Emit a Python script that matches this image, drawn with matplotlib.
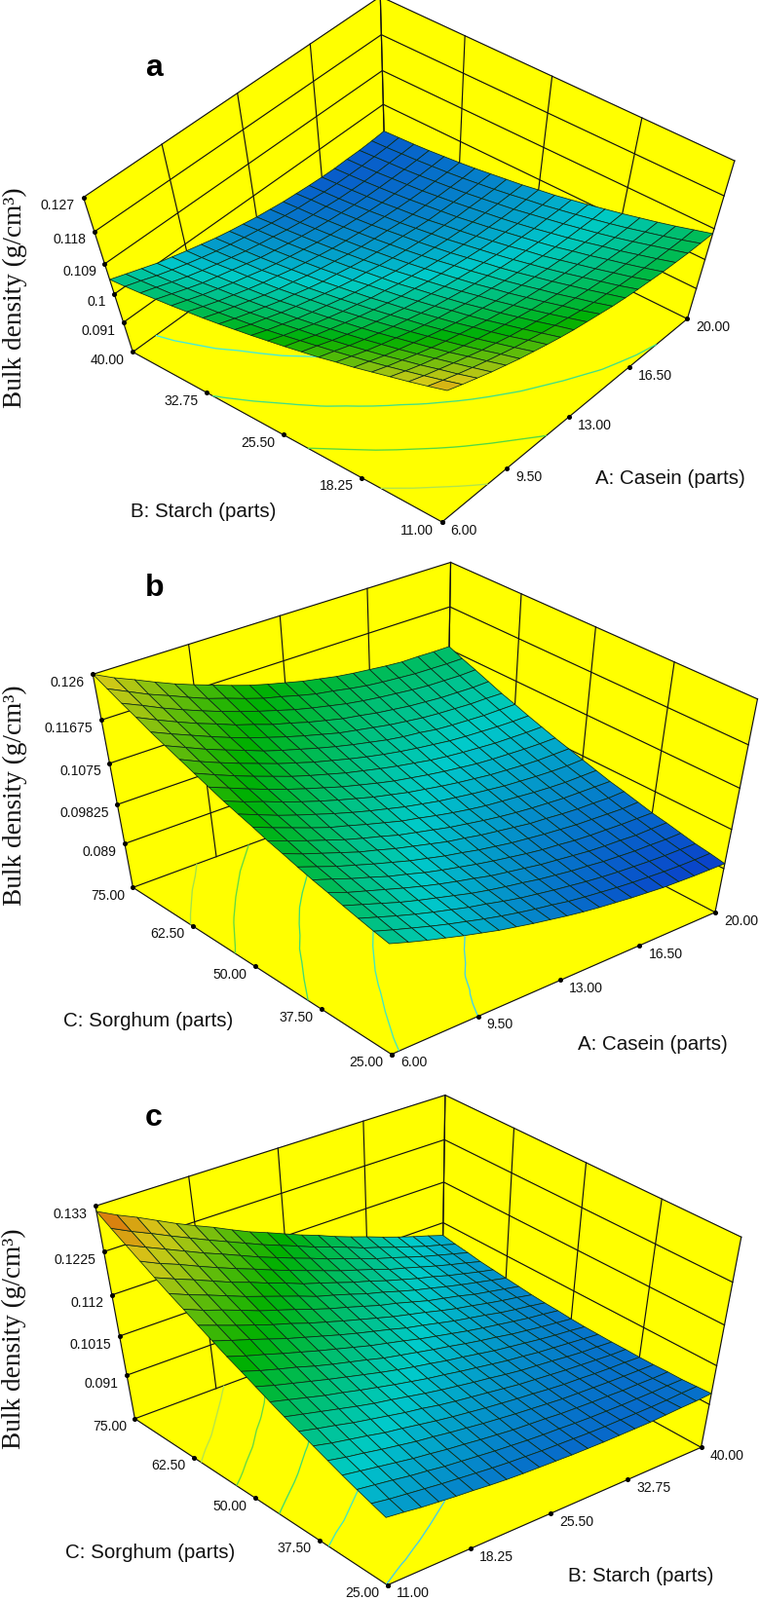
"""Bulk density response surfaces for the casein / starch / sorghum mixes (panels a-c)."""

import matplotlib

matplotlib.use("Agg")
import matplotlib.pyplot as plt
import numpy as np
from matplotlib.colors import LinearSegmentedColormap, Normalize
from mpl_toolkits.mplot3d.art3d import Poly3DCollection

WIDTH, HEIGHT = 780, 1643

CASEIN_TICKS = [6.0, 9.5, 13.0, 16.5, 20.0]
STARCH_TICKS = [11.0, 18.25, 25.5, 32.75, 40.0]
SORGHUM_TICKS = [25.0, 37.5, 50.0, 62.5, 75.0]

DENSITY_TICKS_A = [0.091, 0.1, 0.109, 0.118, 0.127]
DENSITY_TICKS_B = [0.089, 0.09825, 0.1075, 0.11675, 0.126]
DENSITY_TICKS_C = [0.091, 0.1015, 0.112, 0.1225, 0.133]

CONTOURS_A = [0.102, 0.108, 0.1143, 0.1205]
CONTOURS_B = [0.0984, 0.104, 0.1095, 0.1152, 0.1195]
CONTOURS_C = [0.098, 0.1039, 0.1097, 0.1154, 0.1207]

# Rows run along the left-hand factor, columns along the right-hand factor.
SURFACE_A = [
    [1265, 1247, 1230, 1213, 1198, 1183, 1170, 1157, 1145, 1134, 1125, 1116, 1107, 1100, 1094, 1089, 1084, 1081, 1078, 1077, 1076],
    [1248, 1230, 1213, 1197, 1182, 1168, 1154, 1142, 1130, 1120, 1110, 1100, 1092, 1086, 1079, 1074, 1070, 1067, 1065, 1063, 1063],
    [1232, 1214, 1198, 1182, 1167, 1152, 1139, 1126, 1115, 1105, 1095, 1087, 1079, 1072, 1066, 1061, 1057, 1054, 1052, 1050, 1050],
    [1217, 1199, 1182, 1167, 1151, 1137, 1124, 1112, 1101, 1091, 1081, 1073, 1065, 1059, 1053, 1048, 1045, 1041, 1039, 1038, 1038],
    [1202, 1184, 1168, 1152, 1137, 1123, 1111, 1099, 1087, 1077, 1068, 1060, 1053, 1046, 1040, 1036, 1032, 1030, 1027, 1026, 1027],
    [1187, 1170, 1153, 1138, 1124, 1110, 1097, 1085, 1074, 1065, 1055, 1047, 1040, 1034, 1028, 1024, 1021, 1018, 1016, 1015, 1016],
    [1174, 1157, 1140, 1125, 1111, 1097, 1084, 1073, 1063, 1052, 1044, 1036, 1028, 1022, 1017, 1012, 1009, 1007, 1006, 1005, 1006],
    [1160, 1144, 1127, 1112, 1098, 1085, 1073, 1061, 1050, 1041, 1032, 1024, 1018, 1011, 1006, 1003, 999, 997, 996, 995, 996],
    [1148, 1132, 1115, 1100, 1086, 1073, 1061, 1049, 1039, 1030, 1021, 1014, 1007, 1002, 996, 992, 990, 987, 987, 986, 987],
    [1136, 1120, 1103, 1089, 1075, 1062, 1050, 1039, 1028, 1020, 1011, 1004, 998, 992, 987, 983, 981, 978, 978, 977, 978],
    [1125, 1108, 1093, 1077, 1064, 1051, 1040, 1028, 1019, 1009, 1002, 994, 988, 982, 978, 974, 972, 970, 969, 970, 971],
    [1114, 1097, 1082, 1067, 1054, 1042, 1030, 1019, 1010, 1001, 992, 985, 979, 974, 969, 966, 964, 963, 962, 962, 963],
    [1104, 1087, 1073, 1058, 1045, 1033, 1021, 1010, 1000, 993, 984, 977, 971, 966, 962, 959, 956, 956, 955, 955, 957],
    [1094, 1078, 1063, 1049, 1035, 1024, 1012, 1001, 993, 984, 976, 970, 964, 960, 955, 951, 950, 949, 948, 949, 951],
    [1085, 1069, 1055, 1041, 1027, 1015, 1005, 994, 985, 977, 969, 962, 957, 953, 948, 945, 944, 943, 943, 943, 945],
    [1077, 1061, 1046, 1033, 1020, 1008, 998, 987, 978, 970, 962, 956, 951, 946, 943, 940, 938, 937, 938, 938, 940],
    [1069, 1054, 1039, 1026, 1013, 1002, 990, 980, 972, 964, 956, 950, 945, 941, 937, 934, 933, 933, 933, 934, 936],
    [1062, 1047, 1032, 1018, 1007, 996, 985, 974, 966, 958, 951, 945, 940, 936, 932, 930, 929, 929, 929, 930, 932],
    [1055, 1041, 1026, 1012, 1000, 989, 979, 969, 961, 954, 946, 940, 935, 932, 928, 926, 925, 925, 926, 927, 929],
    [1049, 1035, 1020, 1007, 995, 984, 974, 965, 957, 950, 943, 937, 932, 929, 925, 923, 922, 922, 923, 924, 927],
    [1044, 1030, 1016, 1002, 991, 980, 970, 960, 952, 945, 938, 933, 928, 925, 922, 920, 919, 920, 920, 922, 925],
]
SURFACE_B = [
    [1046, 1032, 1019, 1007, 995, 984, 973, 964, 955, 947, 939, 932, 926, 921, 916, 912, 908, 906, 904, 903, 902],
    [1053, 1039, 1026, 1013, 1001, 990, 979, 969, 960, 952, 945, 937, 931, 926, 921, 917, 914, 911, 909, 908, 908],
    [1061, 1047, 1033, 1020, 1008, 997, 986, 977, 967, 958, 951, 944, 938, 932, 927, 923, 920, 917, 915, 914, 913],
    [1069, 1055, 1041, 1027, 1015, 1004, 993, 982, 973, 965, 958, 950, 944, 938, 934, 929, 926, 923, 922, 920, 920],
    [1078, 1062, 1049, 1036, 1023, 1011, 1000, 990, 981, 971, 964, 957, 950, 945, 940, 935, 932, 930, 927, 927, 927],
    [1086, 1072, 1057, 1044, 1030, 1019, 1007, 997, 988, 979, 971, 964, 957, 951, 947, 942, 939, 937, 935, 934, 933],
    [1095, 1080, 1065, 1052, 1039, 1027, 1015, 1005, 995, 987, 978, 971, 964, 959, 954, 950, 946, 944, 942, 940, 941],
    [1105, 1089, 1075, 1061, 1047, 1036, 1024, 1014, 1004, 994, 987, 979, 973, 967, 961, 958, 954, 951, 950, 948, 949],
    [1114, 1099, 1084, 1070, 1056, 1044, 1033, 1021, 1012, 1003, 994, 987, 980, 974, 969, 965, 962, 959, 958, 957, 956],
    [1125, 1109, 1094, 1079, 1065, 1054, 1042, 1031, 1020, 1012, 1003, 995, 988, 982, 978, 974, 970, 967, 965, 965, 965],
    [1135, 1119, 1103, 1089, 1076, 1063, 1051, 1040, 1030, 1020, 1012, 1004, 998, 992, 987, 982, 979, 976, 974, 973, 974],
    [1145, 1129, 1115, 1100, 1086, 1073, 1061, 1050, 1039, 1030, 1021, 1014, 1007, 1001, 996, 991, 988, 985, 983, 983, 983],
    [1157, 1141, 1125, 1110, 1096, 1083, 1071, 1059, 1049, 1039, 1030, 1023, 1016, 1010, 1005, 1000, 997, 995, 993, 992, 992],
    [1169, 1152, 1136, 1121, 1107, 1093, 1081, 1070, 1059, 1050, 1041, 1033, 1026, 1019, 1014, 1010, 1007, 1004, 1003, 1002, 1002],
    [1181, 1163, 1147, 1132, 1118, 1104, 1092, 1080, 1070, 1060, 1051, 1043, 1036, 1030, 1025, 1020, 1017, 1015, 1013, 1012, 1012],
    [1193, 1176, 1159, 1144, 1130, 1115, 1103, 1092, 1081, 1071, 1062, 1054, 1046, 1040, 1036, 1030, 1027, 1025, 1023, 1023, 1023],
    [1205, 1188, 1172, 1156, 1141, 1127, 1115, 1103, 1092, 1082, 1072, 1065, 1058, 1051, 1046, 1041, 1038, 1036, 1034, 1034, 1033],
    [1219, 1201, 1184, 1168, 1154, 1139, 1127, 1114, 1104, 1093, 1084, 1075, 1069, 1062, 1057, 1052, 1049, 1046, 1045, 1044, 1045],
    [1232, 1215, 1197, 1181, 1166, 1152, 1139, 1127, 1116, 1105, 1096, 1088, 1080, 1074, 1069, 1065, 1061, 1058, 1057, 1056, 1057],
    [1246, 1228, 1210, 1195, 1179, 1164, 1152, 1139, 1127, 1118, 1108, 1099, 1093, 1086, 1080, 1076, 1073, 1070, 1069, 1068, 1068],
    [1260, 1241, 1225, 1208, 1192, 1178, 1165, 1152, 1140, 1130, 1121, 1112, 1105, 1098, 1093, 1089, 1085, 1082, 1082, 1081, 1081],
]
SURFACE_C = [
    [979, 973, 966, 961, 956, 952, 947, 943, 940, 938, 936, 934, 933, 932, 932, 932, 932, 934, 936, 937, 940],
    [992, 984, 978, 972, 966, 961, 956, 951, 947, 944, 941, 939, 937, 935, 934, 934, 934, 934, 935, 937, 938],
    [1005, 998, 991, 983, 977, 970, 965, 960, 955, 951, 947, 944, 942, 939, 937, 936, 935, 935, 935, 936, 936],
    [1019, 1011, 1003, 995, 987, 981, 974, 969, 963, 958, 953, 950, 947, 943, 941, 939, 938, 936, 936, 935, 936],
    [1034, 1024, 1016, 1007, 999, 991, 985, 978, 972, 966, 961, 956, 952, 948, 944, 942, 940, 938, 937, 936, 935],
    [1049, 1038, 1029, 1020, 1010, 1003, 995, 987, 980, 974, 968, 963, 958, 954, 949, 945, 943, 940, 938, 937, 935],
    [1064, 1053, 1043, 1032, 1023, 1014, 1005, 998, 989, 982, 976, 970, 964, 958, 954, 950, 946, 943, 940, 937, 936],
    [1079, 1068, 1057, 1046, 1035, 1025, 1017, 1008, 999, 991, 984, 977, 971, 964, 958, 954, 950, 945, 941, 939, 936],
    [1095, 1083, 1071, 1059, 1049, 1038, 1028, 1018, 1009, 1000, 993, 985, 978, 971, 964, 959, 953, 949, 945, 941, 937],
    [1112, 1098, 1086, 1074, 1062, 1051, 1040, 1029, 1019, 1010, 1002, 993, 986, 978, 970, 964, 958, 952, 947, 943, 938],
    [1129, 1114, 1101, 1089, 1075, 1063, 1052, 1041, 1029, 1020, 1011, 1002, 994, 985, 977, 970, 962, 956, 950, 945, 940],
    [1145, 1130, 1117, 1103, 1090, 1077, 1065, 1053, 1041, 1031, 1021, 1010, 1001, 992, 983, 975, 968, 961, 954, 949, 943],
    [1163, 1148, 1134, 1119, 1104, 1091, 1078, 1065, 1053, 1042, 1031, 1019, 1010, 1000, 990, 982, 974, 965, 958, 952, 945],
    [1181, 1165, 1149, 1134, 1119, 1106, 1091, 1078, 1065, 1053, 1041, 1029, 1019, 1009, 998, 988, 980, 971, 963, 956, 948],
    [1200, 1182, 1167, 1151, 1134, 1120, 1106, 1091, 1077, 1065, 1052, 1039, 1029, 1017, 1005, 996, 987, 976, 968, 960, 952],
    [1218, 1200, 1184, 1167, 1150, 1135, 1120, 1105, 1089, 1077, 1064, 1050, 1039, 1026, 1014, 1004, 993, 983, 974, 965, 956],
    [1237, 1219, 1202, 1184, 1166, 1151, 1134, 1119, 1102, 1089, 1075, 1061, 1049, 1035, 1023, 1011, 1001, 989, 979, 969, 960],
    [1257, 1237, 1220, 1201, 1183, 1166, 1150, 1133, 1117, 1102, 1087, 1072, 1059, 1046, 1031, 1020, 1008, 996, 985, 975, 964],
    [1277, 1257, 1238, 1219, 1200, 1183, 1165, 1147, 1131, 1115, 1100, 1084, 1070, 1056, 1041, 1029, 1016, 1003, 992, 981, 970],
    [1297, 1276, 1257, 1237, 1218, 1199, 1181, 1163, 1145, 1129, 1113, 1096, 1082, 1067, 1051, 1038, 1024, 1011, 998, 987, 975],
    [1318, 1296, 1277, 1256, 1235, 1216, 1198, 1178, 1159, 1143, 1126, 1109, 1094, 1077, 1062, 1048, 1033, 1019, 1006, 994, 981],
]

# Colour scale is shared by the three panels.
RESPONSE_CMAP = LinearSegmentedColormap.from_list(
    "response",
    [(0.0, "#0c3de6"), (0.25, "#00e6e6"), (0.5, "#00c800"), (0.75, "#f2e61a"), (1.0, "#ff1a00")],
)
RESPONSE_NORM = Normalize(0.089, 0.137)
FACE_SHADE = np.array([0.88, 0.88, 0.88, 1.0])

# Camera anchors: (x, y, z) on the box -> pixel position in the reference.
ANCHORS_A = [
    (6, 40, 0.127, 86.7, 206), (6, 40, 0.118, 95.7, 236.7), (6, 40, 0.109, 105.7, 267.7),
    (6, 40, 0.1, 115.7, 298.3), (6, 40, 0.091, 125.3, 329.3), (6, 40, 0.081, 137.3, 364),
    (20, 40, 0.127, 390, 1.7), (20, 40, 0.118, 391.7, 36), (20, 40, 0.109, 392.7, 70.7),
    (20, 40, 0.1, 393.3, 105), (20, 11, 0.127, 755.7, 163.3), (20, 11, 0.081, 706.7, 325.7),
    (6, 11, 0.081, 456, 534.3), (9.5, 11, 0.081, 518.3, 482), (13, 11, 0.081, 581, 430.3),
    (16.5, 11, 0.081, 643.7, 378), (6, 32.75, 0.081, 216.7, 406.7),
]
ANCHORS_B = [
    (6, 75, 0.126, 95, 696), (6, 75, 0.11675, 103, 737.7), (6, 75, 0.1075, 110.7, 779.3),
    (6, 75, 0.09825, 118.7, 821.3), (6, 75, 0.089, 126.3, 863), (6, 75, 0.0781, 135.3, 911.7),
    (20, 75, 0.126, 462.3, 584), (20, 75, 0.11675, 461.7, 625), (20, 75, 0.1075, 461, 664),
    (20, 25, 0.126, 777.3, 721.7), (20, 25, 0.11675, 769.3, 763.3), (20, 25, 0.1075, 761.7, 806),
    (20, 25, 0.09825, 752.7, 846.7), (20, 25, 0.089, 745, 886.7), (20, 25, 0.0781, 735, 938.3),
    (6, 25, 0.0781, 401.7, 1080.7), (9.5, 25, 0.0781, 485.7, 1045), (13, 25, 0.0781, 568.3, 1009.3),
    (16.5, 25, 0.0781, 651.7, 974), (6, 62.5, 0.0781, 202, 954), (6, 50, 0.0781, 268.7, 996.3),
    (6, 37.5, 0.0781, 335, 1038.3),
]
ANCHORS_C = [
    (11, 75, 0.133, 98.7, 1242), (11, 75, 0.1225, 106, 1284), (11, 75, 0.112, 113.3, 1325.7),
    (11, 75, 0.1015, 120.7, 1367.3), (11, 75, 0.091, 128.3, 1409), (11, 75, 0.0787, 137.7, 1457.7),
    (40, 75, 0.133, 456.7, 1130), (40, 75, 0.1225, 456, 1171.7), (40, 75, 0.112, 455.3, 1213.3),
    (40, 75, 0.1015, 454.7, 1253.3), (40, 25, 0.133, 763.3, 1267.7), (40, 25, 0.0787, 723.3, 1484.3),
    (11, 25, 0.0787, 396.7, 1626), (18.25, 25, 0.0787, 479, 1590.7), (25.5, 25, 0.0787, 560, 1555),
    (32.75, 25, 0.0787, 641.7, 1519.3), (11, 62.5, 0.0787, 202.3, 1500), (11, 50, 0.0787, 267.7, 1542.3),
    (11, 37.5, 0.0787, 332.3, 1584),
]

plt.rcParams["font.family"] = ["Liberation Sans", "DejaVu Sans"]


def fit_camera(anchors):
    """Fit a 3x4 projective camera (box coordinates -> reference pixels)."""
    pts = np.array(anchors, dtype=float)
    lo = pts[:, :3].min(axis=0)
    span = pts[:, :3].max(axis=0) - lo
    unit = (pts[:, :3] - lo) / span
    uv = pts[:, 3:] / WIDTH

    rows = []
    for (x, y, z), (u, v) in zip(unit, uv):
        rows.append([x, y, z, 1, 0, 0, 0, 0, -u * x, -u * y, -u * z, -u])
        rows.append([0, 0, 0, 0, x, y, z, 1, -v * x, -v * y, -v * z, -v])
    cam = np.linalg.svd(np.array(rows))[2][-1].reshape(3, 4)
    if cam[2] @ np.array([0.5, 0.5, 0.5, 1.0]) < 0:
        cam = -cam

    to_unit = np.diag([*(1 / span), 1.0])
    to_unit[:3, 3] = -lo / span
    return np.diag([WIDTH, WIDTH, 1.0]) @ cam @ to_unit


def put_text(fig, px, py, text, **kwargs):
    """Place figure text at a reference pixel position."""
    kwargs.setdefault("va", "center")
    fig.text(px / WIDTH, 1 - py / HEIGHT, text, **kwargs)


def contour_colour(value):
    """Floor contours are a lighter tint of the surface colour."""
    rgba = np.array(RESPONSE_CMAP(RESPONSE_NORM(value)))
    rgba[:3] = 0.75 * rgba[:3] + 0.25
    return tuple(rgba)


def draw_panel(fig, panel):
    x_ticks, y_ticks, z_ticks = panel["x_ticks"], panel["y_ticks"], panel["z_ticks"]
    floor = panel["floor"]
    x0, x1 = x_ticks[0], x_ticks[-1]
    y0, y1 = y_ticks[0], y_ticks[-1]
    top = z_ticks[-1]

    # One square 3d axes over the whole figure, so its view limits are pixels.
    side = HEIGHT / WIDTH
    ax = fig.add_axes([(1 - side) / 2, 0, side, 1], projection="3d", computed_zorder=False)
    ax.set_axis_off()
    ax.patch.set_alpha(0)
    ax.set_proj_type("ortho")  # no clipping to the unit view box
    ax.viewLim.intervalx = ((WIDTH - HEIGHT) / 2, (WIDTH + HEIGHT) / 2)
    ax.viewLim.intervaly = (HEIGHT, 0)

    cam = fit_camera(panel["anchors"])
    # Depth row only has to grow with distance for the polygon sort.
    proj = np.vstack([cam[0], cam[1], [0, 0, 0, -1], cam[2]])
    ax.get_proj = lambda: proj

    # Floor and the two back walls.
    panes = [
        [(x0, y0, floor), (x1, y0, floor), (x1, y1, floor), (x0, y1, floor)],
        [(x0, y1, floor), (x1, y1, floor), (x1, y1, top), (x0, y1, top)],
        [(x1, y1, floor), (x1, y0, floor), (x1, y0, top), (x1, y1, top)],
    ]
    ax.add_collection3d(Poly3DCollection(panes, facecolors="#ffff00", edgecolors="none", zorder=1))

    line = {"color": "#111111", "linewidth": 0.85, "zorder": 2}
    for z in z_ticks:
        ax.plot([x0, x1, x1], [y1, y1, y0], [z, z, z], **line)
    for x in x_ticks:
        ax.plot([x, x], [y1, y1], [floor, top], **line)
    for y in y_ticks:
        ax.plot([x1, x1], [y, y], [floor, top], **line)
    ax.plot([x0, x1, x1, x0, x0], [y0, y0, y1, y1, y0], [floor] * 5, **line)

    xs = np.linspace(x0, x1, 21)
    ys = np.linspace(y0, y1, 21)
    grid_x, grid_y = np.meshgrid(xs, ys)
    density = np.array(panel["surface"]) * 1e-4

    levels = panel["contours"]
    ax.contour(
        grid_x, grid_y, density, levels=levels, zdir="z", offset=floor,
        colors=[contour_colour(v) for v in levels], linewidths=0.95, zorder=3,
    )

    surf = ax.plot_surface(
        grid_x, grid_y, density, rstride=1, cstride=1, shade=False,
        facecolors=RESPONSE_CMAP(RESPONSE_NORM(density)) * FACE_SHADE, linewidth=0.55, zorder=4,
    )
    surf.set_edgecolor("#0c2a18")

    # Tick dots and labels.
    dots = {"color": "black", "marker": "o", "markersize": 2.6, "linestyle": "none", "zorder": 5}
    ax.plot([x0] * len(z_ticks), [y1] * len(z_ticks), z_ticks, **dots)
    ax.plot(x_ticks, [y0] * len(x_ticks), [floor] * len(x_ticks), **dots)
    ax.plot([x0] * len(y_ticks), y_ticks, [floor] * len(y_ticks), **dots)

    def to_pixel(x, y, z):
        u, v, w = cam @ np.array([x, y, z, 1.0])
        return u / w, v / w

    tick_font = {"fontsize": 10.1, "color": "#111111"}
    for z in z_ticks:
        px, py = to_pixel(x0, y1, z)
        put_text(fig, px - 8.5, py + 8.5, f"{z:g}", ha="right", **tick_font)
    for y in y_ticks:
        px, py = to_pixel(x0, y, floor)
        put_text(fig, px - 8.5, py + 8.5, f"{y:.2f}", ha="right", **tick_font)
    for x in x_ticks:
        px, py = to_pixel(x, y0, floor)
        put_text(fig, px + 9, py + 8.7, f"{x:.2f}", ha="left", **tick_font)

    label_font = {"fontsize": 14.8, "color": "#111111", "ha": "center"}
    put_text(fig, *panel["x_label_at"], panel["x_label"], **label_font)
    put_text(fig, *panel["y_label_at"], panel["y_label"], **label_font)
    put_text(
        fig, *panel["z_label_at"], "Bulk density (g/cm³)", rotation=90, ha="center",
        fontsize=19.6, family="Liberation Serif", color="#111111",
    )
    put_text(fig, *panel["letter_at"], panel["letter"], fontsize=23, fontweight="bold", ha="center")


PANELS = [
    {
        "letter": "a", "letter_at": (158, 70),
        "x_ticks": CASEIN_TICKS, "y_ticks": STARCH_TICKS, "z_ticks": DENSITY_TICKS_A, "floor": 0.081,
        "surface": SURFACE_A, "contours": CONTOURS_A, "anchors": ANCHORS_A,
        "x_label": "A: Casein (parts)", "x_label_at": (688, 491),
        "y_label": "B: Starch (parts)", "y_label_at": (209, 525),
        "z_label_at": (15, 305.6),
    },
    {
        "letter": "b", "letter_at": (159, 604),
        "x_ticks": CASEIN_TICKS, "y_ticks": SORGHUM_TICKS, "z_ticks": DENSITY_TICKS_B, "floor": 0.0781,
        "surface": SURFACE_B, "contours": CONTOURS_B, "anchors": ANCHORS_B,
        "x_label": "A: Casein (parts)", "x_label_at": (669.5, 1072.7),
        "y_label": "C: Sorghum (parts)", "y_label_at": (152, 1048.7),
        "z_label_at": (15, 817),
    },
    {
        "letter": "c", "letter_at": (158, 1148),
        "x_ticks": STARCH_TICKS, "y_ticks": SORGHUM_TICKS, "z_ticks": DENSITY_TICKS_C, "floor": 0.0787,
        "surface": SURFACE_C, "contours": CONTOURS_C, "anchors": ANCHORS_C,
        "x_label": "B: Starch (parts)", "x_label_at": (658, 1619),
        "y_label": "C: Sorghum (parts)", "y_label_at": (154, 1594),
        "z_label_at": (14, 1375),
    },
]


def main():
    fig = plt.figure(figsize=(WIDTH / 100, HEIGHT / 100), dpi=100, facecolor="white")
    for panel in PANELS:
        draw_panel(fig, panel)
    fig.savefig("out.png", dpi=100)
    plt.close(fig)


if __name__ == "__main__":
    main()
